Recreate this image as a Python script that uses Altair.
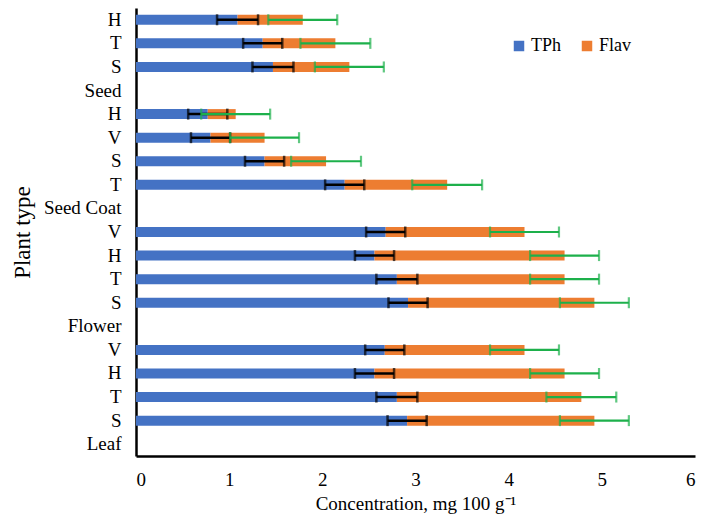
import altair as alt
import pandas as pd

# rows top-to-bottom
labels = ["H", "T", "S", "Seed", "H", "V", "S", "T", "Seed Coat",
          "V", "H", "T", "S", "Flower", "V", "H", "T", "S", "Leaf"]
tph = [1.09, 1.36, 1.47, None, 0.77, 0.80, 1.38, 2.24, None,
       2.68, 2.56, 2.80, 2.92, None, 2.67, 2.56, 2.80, 2.91, None]
flav = [0.70, 0.78, 0.82, None, 0.30, 0.58, 0.66, 1.10, None,
        1.49, 2.04, 1.80, 2.00, None, 1.50, 2.04, 1.98, 2.01, None]
tph_err = [0.22, 0.21, 0.22, None, 0.21, 0.21, 0.21, 0.21, None,
           0.21, 0.21, 0.22, 0.21, None, 0.21, 0.21, 0.22, 0.21, None]
tot_err = [0.37, 0.375, 0.37, None, 0.37, 0.37, 0.375, 0.375, None,
           0.37, 0.37, 0.37, 0.37, None, 0.37, 0.37, 0.375, 0.37, None]
series = ["TPh", "Flav"]
colors = ["#4472C4", "#ED7D31"]
x_ticks = [0, 1, 2, 3, 4, 5, 6]

keys = [f"{i:02d}_{lab}" for i, lab in enumerate(labels)]

bar_rows, err_rows = [], []
for k, t, f, te, oe in zip(keys, tph, flav, tph_err, tot_err):
    if t is None:
        continue
    bar_rows.append({"key": k, "series": "TPh", "value": t, "ord": 0})
    bar_rows.append({"key": k, "series": "Flav", "value": f, "ord": 1})
    tot = t + f
    err_rows.append({"key": k, "t_lo": t - te, "t_hi": t + te,
                     "o_lo": tot - oe, "o_hi": tot + oe})
bars_df = pd.DataFrame(bar_rows)
err_df = pd.DataFrame(err_rows)

FONT = "Times New Roman, Liberation Serif, serif"

y_scale = alt.Scale(domain=keys, paddingInner=0, paddingOuter=0)
x_scale = alt.Scale(domain=[0, 6], nice=False, padding=0, zero=True)
y_axis = alt.Axis(title="Plant type", labelExpr="split(datum.label, '_')[1]",
                  ticks=False, labelPadding=15, titlePadding=9, titleFontSize=23)
x_axis = alt.Axis(values=x_ticks, format="d", title="Concentration, mg 100 g\u207b\u00b9",
                  ticks=False, grid=False, labelPadding=14, titlePadding=5)

ey = alt.Y("key:N", scale=y_scale, axis=y_axis)
def ex(field):
    return alt.X(field, scale=x_scale, axis=x_axis)

bars = alt.Chart(bars_df).mark_bar(size=10).encode(
    y=ey,
    x=alt.X("value:Q", stack="zero", scale=x_scale, axis=x_axis),
    color=alt.Color("series:N", scale=alt.Scale(domain=series, range=colors),
                    legend=alt.Legend(title=None, orient="none", legendX=374, legendY=29,
                                      direction="horizontal", symbolType="square",
                                      symbolSize=110, labelFontSize=18, labelFont=FONT,
                                      labelColor="black",
                                      columnPadding=16, labelOffset=3)),
    order=alt.Order("ord:Q"),
)

base_err = alt.Chart(err_df)
t_rule = base_err.mark_rule(color="black", strokeWidth=2.5).encode(
    y=ey, x=ex("t_lo:Q"), x2="t_hi:Q")
t_lo_tick = base_err.mark_tick(color="black", thickness=2.5, size=11).encode(
    y=ey, x=ex("t_lo:Q"))
t_hi_tick = base_err.mark_tick(color="black", thickness=2.5, size=11).encode(
    y=ey, x=ex("t_hi:Q"))
o_rule = base_err.mark_rule(color="#1DB04B", strokeWidth=2.2).encode(
    y=ey, x=ex("o_lo:Q"), x2="o_hi:Q")
o_lo_tick = base_err.mark_tick(color="#1DB04B", thickness=2.2, size=11).encode(
    y=ey, x=ex("o_lo:Q"))
o_hi_tick = base_err.mark_tick(color="#1DB04B", thickness=2.2, size=11).encode(
    y=ey, x=ex("o_hi:Q"))

chart = alt.layer(bars, t_rule, t_lo_tick, t_hi_tick, o_rule, o_lo_tick, o_hi_tick).properties(
    width=559, height=448,
    autosize=alt.AutoSizeParams(type="none"),
    padding={"left": 128, "top": 0, "right": 5, "bottom": 62},
).configure_view(stroke=None).configure_scale(continuousPadding=0).configure_axis(
    domainColor="black", domainWidth=2.5, grid=False,
    labelFont=FONT, titleFont=FONT, labelFontSize=19, titleFontSize=19,
    labelColor="black", titleColor="black", titleFontWeight="normal",
)

chart.save("out.html", embed_options={"renderer": "svg", "actions": False})
